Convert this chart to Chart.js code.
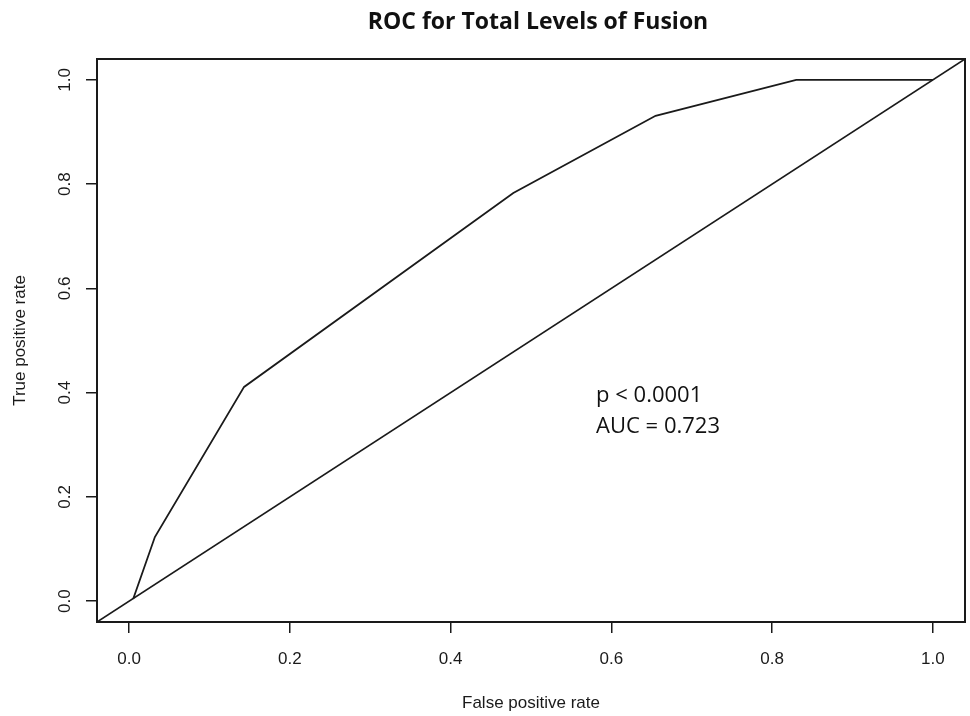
<!DOCTYPE html>
<html>
<head>
<meta charset="utf-8">
<script src="https://cdn.jsdelivr.net/npm/chart.js@4.4.1/dist/chart.umd.min.js"></script>
<style>
  html, body { margin: 0; padding: 0; background: #fff; }
  #wrap { width: 970px; height: 716px; position: relative; }
</style>
</head>
<body>
<div id="wrap"><canvas id="rocChart"></canvas></div>
<script>
// ROC curve points (false positive rate / true positive rate)
const fprValues = [0.005, 0.032, 0.143, 0.478, 0.655, 0.830, 1.0];
const tprValues = [0.004, 0.123, 0.411, 0.783, 0.931, 1.0, 1.0];

// chance line, spans the whole plot box like R's abline
const chanceX = [-0.04, 1.04];
const chanceY = [-0.04, 1.04];

const tickValues = [0, 0.2, 0.4, 0.6, 0.8, 1.0];
const tickLabels = ['0.0', '0.2', '0.4', '0.6', '0.8', '1.0'];

const annotationLines = ['p < 0.0001', 'AUC = 0.723'];
const chartTitle = 'ROC for Total Levels of Fusion';

const ink = '#1a1a1a';
const tickFont = { family: '"Liberation Sans", Arial, sans-serif', size: 17 };

const rocPoints = fprValues.map((x, i) => ({ x: x, y: tprValues[i] }));
const chancePoints = chanceX.map((x, i) => ({ x: x, y: chanceY[i] }));

// box, rotated y tick labels, title and AUC text
const extras = {
    id: 'extras',
    afterDraw(chart) {
        const c = chart.ctx;
        const a = chart.chartArea;
        const xs = chart.scales.x;
        const ys = chart.scales.y;
        c.save();
        c.strokeStyle = ink;
        c.lineWidth = 2;
        c.strokeRect(a.left, a.top, a.right - a.left, a.bottom - a.top);

        c.fillStyle = ink;
        c.font = tickFont.size + 'px ' + tickFont.family;
        c.textAlign = 'center';
        c.textBaseline = 'middle';
        tickValues.forEach((v, i) => {
            c.save();
            c.translate(65, ys.getPixelForValue(v));
            c.rotate(-Math.PI / 2);
            c.fillText(tickLabels[i], 0, 0);
            c.restore();
        });

        c.font = 'bold 23px "Open Sans", Lato, sans-serif';
        c.fillStyle = '#111';
        c.fillText(chartTitle, (a.left + a.right) / 2 + 7, 22);

        c.font = '22px "Open Sans", Lato, sans-serif';
        c.textAlign = 'left';
        c.fillText(annotationLines[0], xs.getPixelForValue(0.581), ys.getPixelForValue(0.395));
        c.fillText(annotationLines[1], xs.getPixelForValue(0.581), ys.getPixelForValue(0.334));
        c.restore();
    }
};

const ctx = document.getElementById('rocChart').getContext('2d');
const rocChart = new Chart(ctx, {
    type: 'scatter',
    data: {
        datasets: [
            {
                label: 'ROC',
                data: rocPoints,
                showLine: true,
                borderColor: ink,
                borderWidth: 1.8,
                pointRadius: 0,
                tension: 0
            },
            {
                label: 'Chance',
                data: chancePoints,
                showLine: true,
                borderColor: ink,
                borderWidth: 1.6,
                pointRadius: 0
            }
        ]
    },
    options: {
        responsive: true,
        maintainAspectRatio: false,
        animation: false,
        layout: { padding: { top: 59, right: 5, bottom: 0, left: 0 } },
        plugins: {
            legend: { display: false },
            tooltip: { enabled: false }
        },
        scales: {
            x: {
                type: 'linear',
                min: -0.04,
                max: 1.04,
                afterBuildTicks: s => { s.ticks = tickValues.map(v => ({ value: v })); },
                afterFit: s => { s.height = 94; },
                ticks: {
                    color: ink,
                    font: tickFont,
                    padding: 16,
                    maxRotation: 0,
                    callback: v => v.toFixed(1)
                },
                grid: { drawOnChartArea: false, drawTicks: true, tickLength: 11, color: ink, lineWidth: 1.5 },
                border: { display: true, color: ink, width: 2 },
                title: {
                    display: true,
                    text: 'False positive rate',
                    color: ink,
                    font: tickFont,
                    padding: { top: 0, bottom: 2 }
                }
            },
            y: {
                type: 'linear',
                min: -0.04,
                max: 1.04,
                afterBuildTicks: s => { s.ticks = tickValues.map(v => ({ value: v })); },
                afterFit: s => { s.width = 97; },
                ticks: { display: false },
                grid: { drawOnChartArea: false, drawTicks: true, tickLength: 11, color: ink, lineWidth: 1.5 },
                border: { display: true, color: ink, width: 2 },
                title: {
                    display: true,
                    text: 'True positive rate',
                    color: ink,
                    font: tickFont,
                    padding: { top: 10, bottom: 0 }
                }
            }
        }
    },
    plugins: [extras]
});
</script>
</body>
</html>
